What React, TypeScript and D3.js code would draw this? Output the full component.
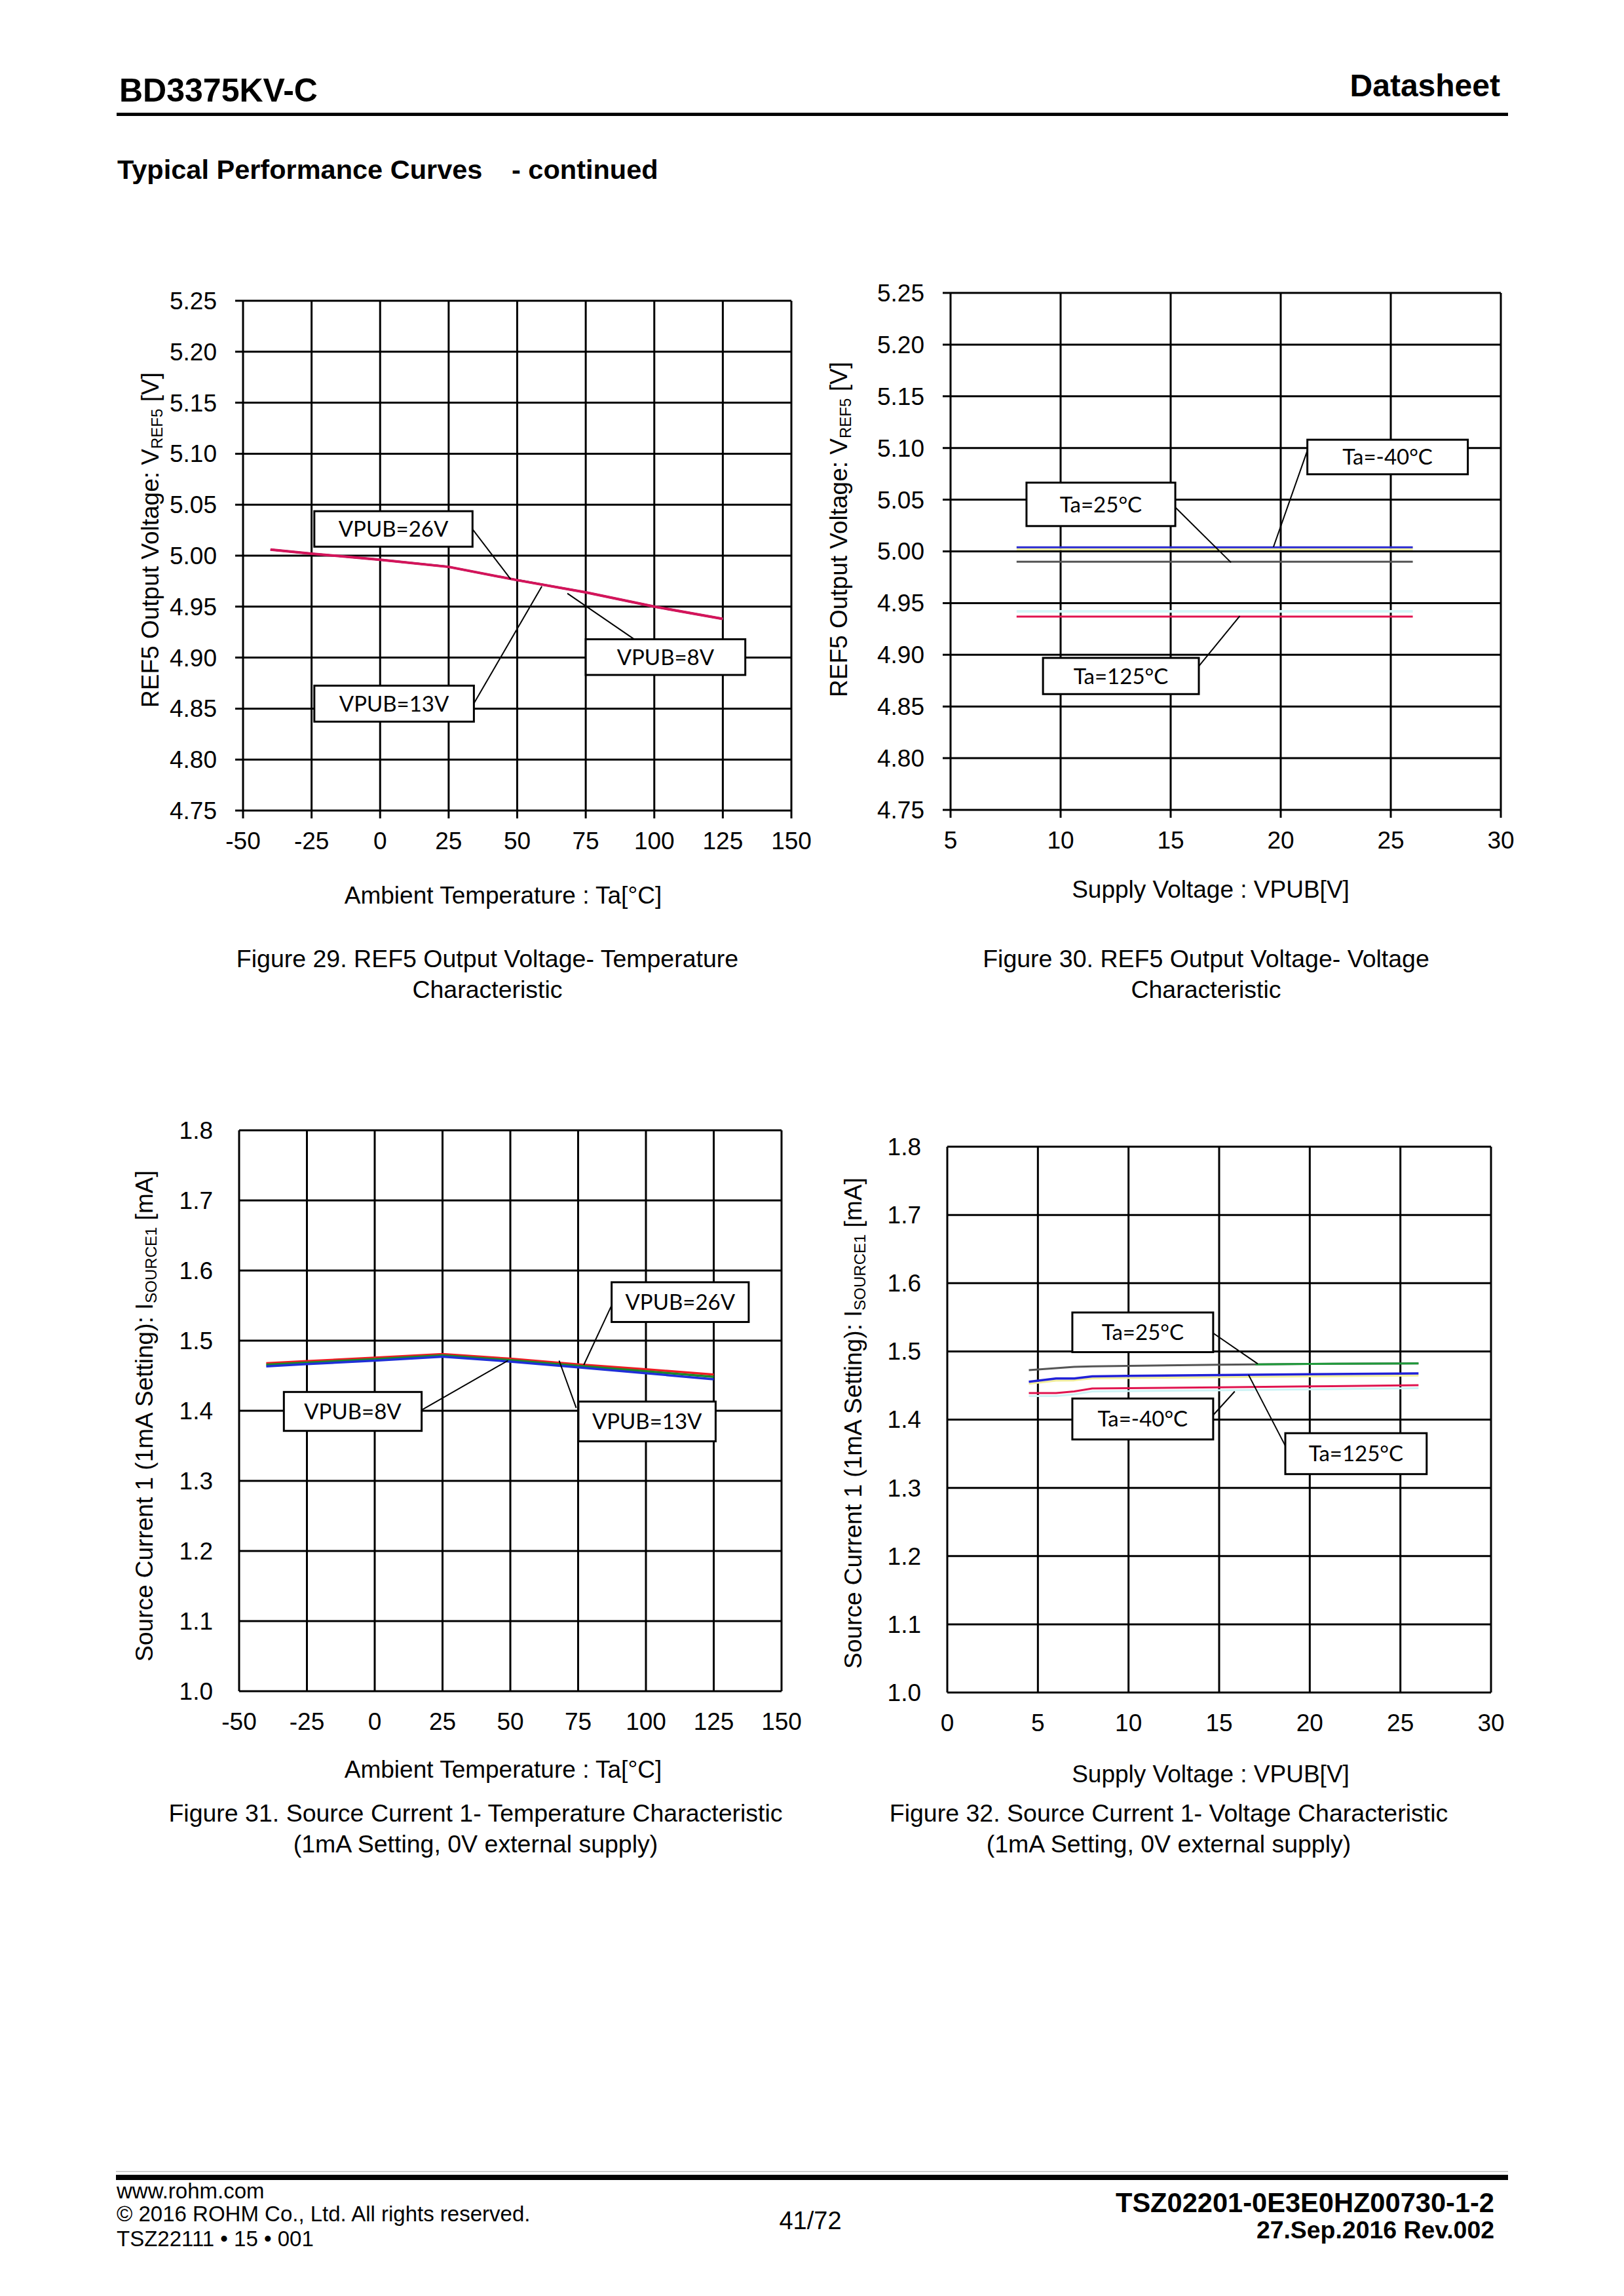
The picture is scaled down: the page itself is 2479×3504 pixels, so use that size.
import * as d3 from "d3";

const SANS = "'Liberation Sans', Arial, sans-serif";
const BOXFONT = "Lato, 'Open Sans', sans-serif";

// ---- Figure 29: REF5 output voltage vs temperature
const fig29Temp = [-40, -25, 0, 25, 50, 75, 100, 125];
const fig29Vpub8 = [5.006, 5.002, 4.996, 4.989, 4.976, 4.964, 4.95, 4.938];
const fig29Vpub13 = [5.006, 5.002, 4.996, 4.989, 4.976, 4.964, 4.95, 4.938];
const fig29Vpub26 = [5.006, 5.002, 4.996, 4.989, 4.976, 4.964, 4.95, 4.938];

// ---- Figure 30: REF5 output voltage vs supply voltage
const fig30Vpub = [8, 10, 13, 16, 20, 24, 26];
const fig30TaM40 = [5.004, 5.004, 5.004, 5.004, 5.004, 5.004, 5.004];
const fig30TaM40b = [5.002, 5.002, 5.002, 5.002, 5.002, 5.002, 5.002];
const fig30Ta25 = [4.99, 4.99, 4.99, 4.99, 4.99, 4.99, 4.99];
const fig30Ta125 = [4.937, 4.937, 4.937, 4.937, 4.937, 4.937, 4.937];
const fig30Ta125b = [4.942, 4.942, 4.942, 4.942, 4.942, 4.942, 4.942];

// ---- Figure 31: source current 1 vs temperature
const fig31Temp = [-40, -25, 0, 25, 50, 75, 100, 125];
const fig31Vpub26 = [1.4677, 1.4708, 1.4757, 1.4809, 1.4742, 1.4662, 1.4592, 1.4517];
const fig31Vpub13 = [1.4656, 1.4687, 1.4736, 1.479, 1.4722, 1.464, 1.4562, 1.4483];
const fig31Vpub8 = [1.4634, 1.4665, 1.4714, 1.4772, 1.4702, 1.4619, 1.4535, 1.4449];

// ---- Figure 32: source current 1 vs supply voltage
const fig32Vpub = [4.5, 6, 7, 8, 10, 15, 20, 26];
const fig32Ta25 = [1.4725, 1.4755, 1.4774, 1.478, 1.4787, 1.4805, 1.4817, 1.4823];
const fig32Ta25bVpub = [17, 20, 26];
const fig32Ta25b = [1.481, 1.4817, 1.4823];
const fig32TaM40 = [1.4554, 1.4603, 1.4603, 1.4634, 1.464, 1.4652, 1.4664, 1.4676];
const fig32TaM40b = [1.4525, 1.4572, 1.4575, 1.4605, 1.461, 1.4622, 1.4634, 1.4646];
const fig32Ta125 = [1.4389, 1.4389, 1.4413, 1.4456, 1.4462, 1.4474, 1.4487, 1.4505];
const fig32Ta125b = [1.4345, 1.4345, 1.437, 1.4412, 1.4418, 1.443, 1.4443, 1.446];

const tempTicks = [-50, -25, 0, 25, 50, 75, 100, 125, 150];
const ref5Ticks = [4.75, 4.8, 4.85, 4.9, 4.95, 5.0, 5.05, 5.1, 5.15, 5.2, 5.25];
const vpubTicks30 = [5, 10, 15, 20, 25, 30];
const vpubTicks32 = [0, 5, 10, 15, 20, 25, 30];
const currTicks = [1.0, 1.1, 1.2, 1.3, 1.4, 1.5, 1.6, 1.7, 1.8];

type Series = { x: number[]; y: number[]; color: string; w?: number };
type Callout = { label: string; x0: number; x1: number; y0: number; y1: number; from: [number, number]; to: [number, number] };

type ChartProps = {
  frame: { l: number; r: number; t: number; b: number };
  xTicks: number[];
  yTicks: number[];
  yFmt: (v: number) => string;
  tickLen: number;
  series: Series[];
  callouts: Callout[];
  xTitle: string;
  xTitlePos: [number, number];
  yTitle: string;
  ySub: string;
  yUnit: string;
  yTitlePos: [number, number];
  caption: string[];
  captionPos: [number, number];
};

function Chart(p: ChartProps) {
  const { frame } = p;
  const x = d3.scaleLinear().domain(d3.extent(p.xTicks) as [number, number]).range([frame.l, frame.r]);
  const y = d3.scaleLinear().domain(d3.extent(p.yTicks) as [number, number]).range([frame.b, frame.t]);
  const line = d3.line<[number, number]>().x((d) => x(d[0])).y((d) => y(d[1]));
  return (
    <g>
      {/* grid */}
      {p.yTicks.map((t) => (
        <line key={"h" + t} x1={frame.l - p.tickLen} x2={frame.r} y1={y(t)} y2={y(t)} stroke="#000" strokeWidth={3} />
      ))}
      {p.xTicks.map((t) => (
        <line key={"v" + t} x1={x(t)} x2={x(t)} y1={frame.t} y2={frame.b + p.tickLen} stroke="#000" strokeWidth={3} />
      ))}
      {/* tick labels */}
      {p.yTicks.map((t) => (
        <text key={"yl" + t} x={frame.l - 40} y={y(t)} dy="0.35em" textAnchor="end" fontFamily={SANS} fontSize={37}>
          {p.yFmt(t)}
        </text>
      ))}
      {p.xTicks.map((t) => (
        <text key={"xl" + t} x={x(t)} y={frame.b + 59} textAnchor="middle" fontFamily={SANS} fontSize={37}>
          {t}
        </text>
      ))}
      {/* series */}
      {p.series.map((s, i) => (
        <path
          key={"s" + i}
          d={line(s.x.map((v, j) => [v, s.y[j]] as [number, number])) || ""}
          fill="none"
          stroke={s.color}
          strokeWidth={s.w ?? 3.5}
          strokeLinejoin="round"
        />
      ))}
      {/* callouts */}
      {p.callouts.map((c, i) => (
        <g key={"c" + i}>
          <line x1={x(c.from[0])} y1={y(c.from[1])} x2={x(c.to[0])} y2={y(c.to[1])} stroke="#000" strokeWidth={2} />
          <rect x={x(c.x0)} y={y(c.y0)} width={x(c.x1) - x(c.x0)} height={y(c.y1) - y(c.y0)} fill="#fff" stroke="#000" strokeWidth={3} />
          <text
            x={(x(c.x0) + x(c.x1)) / 2}
            y={(y(c.y0) + y(c.y1)) / 2}
            dy="0.36em"
            textAnchor="middle"
            fontFamily={BOXFONT}
            fontSize={33}
          >
            {c.label}
          </text>
        </g>
      ))}
      {/* axis titles */}
      <text x={p.xTitlePos[0]} y={p.xTitlePos[1]} textAnchor="middle" fontFamily={SANS} fontSize={37}>
        {p.xTitle}
      </text>
      <text
        transform={`translate(${p.yTitlePos[0] + 13},${p.yTitlePos[1]}) rotate(-90)`}
        textAnchor="middle"
        fontFamily={SANS}
        fontSize={37}
      >
        {p.yTitle}
        <tspan fontSize={24} dy={6}>
          {p.ySub}
        </tspan>
        <tspan dy={-6}>{p.yUnit}</tspan>
      </text>
      {/* caption */}
      {p.caption.map((c, i) => (
        <text key={"cap" + i} x={p.captionPos[0]} y={p.captionPos[1] + i * 47} textAnchor="middle" fontFamily={SANS} fontSize={37.5}>
          {c}
        </text>
      ))}
    </g>
  );
}

const f2 = (v: number) => v.toFixed(2);
const f1 = (v: number) => v.toFixed(1);

export default function App() {
  return (
    <svg
      width={2479}
      height={3504}
      viewBox="0 0 2479 3504"
      style={{ position: "absolute", left: 0, top: 0, background: "#fff" }}
    >
      <rect width={2479} height={3504} fill="#fff" />
      {/* header */}
      <text x={182} y={155} fontFamily={SANS} fontWeight="bold" fontSize={50}>
        BD3375KV-C
      </text>
      <text x={2290} y={147} textAnchor="end" fontFamily={SANS} fontWeight="bold" fontSize={48}>
        Datasheet
      </text>
      <rect x={178} y={172} width={2124} height={5} fill="#000" />
      <text x={179} y={273} fontFamily={SANS} fontWeight="bold" fontSize={41.5}>
        Typical Performance Curves
      </text>
      <text x={781} y={273} fontFamily={SANS} fontWeight="bold" fontSize={41.5}>
        - continued
      </text>

      <Chart
        frame={{ l: 371, r: 1208, t: 459, b: 1237 }}
        xTicks={tempTicks}
        yTicks={ref5Ticks}
        yFmt={f2}
        tickLen={12}
        series={[
          { x: fig29Temp, y: fig29Vpub8, color: "#1f3fd0", w: 3 },
          { x: fig29Temp, y: fig29Vpub13, color: "#1a8a2a", w: 3 },
          { x: fig29Temp, y: fig29Vpub26, color: "#d4145a", w: 4 },
        ]}
        callouts={[
          { label: "VPUB=26V", x0: -24, x1: 33.7, y0: 5.0436, y1: 5.0088, from: [33.7, 5.026], to: [47.6, 4.977] },
          { label: "VPUB=13V", x0: -24, x1: 34.2, y0: 4.8725, y1: 4.8372, from: [34.2, 4.855], to: [59, 4.97] },
          { label: "VPUB=8V", x0: 75, x1: 133.2, y0: 4.918, y1: 4.883, from: [92.7, 4.918], to: [68.3, 4.963] },
        ]}
        xTitle="Ambient Temperature : Ta[°C]"
        xTitlePos={[768, 1379]}
        yTitle="REF5 Output Voltage:  V"
        ySub="REF5"
        yUnit=" [V]"
        yTitlePos={[229, 824]}
        caption={["Figure 29. REF5 Output Voltage- Temperature", "Characteristic"]}
        captionPos={[744, 1476]}
      />

      <Chart
        frame={{ l: 1451, r: 2291, t: 447, b: 1236 }}
        xTicks={vpubTicks30}
        yTicks={ref5Ticks}
        yFmt={f2}
        tickLen={12}
        series={[
          { x: fig30Vpub, y: fig30TaM40b, color: "#f0ee9a", w: 3 },
          { x: fig30Vpub, y: fig30TaM40, color: "#2a2ad0", w: 3 },
          { x: fig30Vpub, y: fig30Ta25, color: "#555", w: 3 },
          { x: fig30Vpub, y: fig30Ta125b, color: "#d6f6f8", w: 4 },
          { x: fig30Vpub, y: fig30Ta125, color: "#e0144f", w: 3 },
        ]}
        callouts={[
          { label: "Ta=-40°C", x0: 21.21, x1: 28.5, y0: 5.108, y1: 5.0746, from: [21.21, 5.0975], to: [19.67, 5.0043] },
          { label: "Ta=25°C", x0: 8.45, x1: 15.21, y0: 5.0665, y1: 5.0245, from: [15.21, 5.0426], to: [17.74, 4.9893] },
          { label: "Ta=125°C", x0: 9.2, x1: 16.28, y0: 4.897, y1: 4.862, from: [16.28, 4.889], to: [18.14, 4.9375] },
        ]}
        xTitle="Supply Voltage : VPUB[V]"
        xTitlePos={[1848, 1370]}
        yTitle="REF5 Output Voltage:  V"
        ySub="REF5"
        yUnit=" [V]"
        yTitlePos={[1280, 808]}
        caption={["Figure 30. REF5 Output Voltage- Voltage", "Characteristic"]}
        captionPos={[1841, 1476]}
      />

      <Chart
        frame={{ l: 365, r: 1193, t: 1725, b: 2581 }}
        xTicks={tempTicks}
        yTicks={currTicks}
        yFmt={f1}
        tickLen={0}
        series={[
          { x: fig31Temp, y: fig31Vpub26, color: "#ee1c24" },
          { x: fig31Temp, y: fig31Vpub13, color: "#1a8a2a" },
          { x: fig31Temp, y: fig31Vpub8, color: "#1f2fd8" },
        ]}
        callouts={[
          { label: "VPUB=26V", x0: 87.35, x1: 137.9, y0: 1.5833, y1: 1.5266, from: [87.35, 1.5504], to: [77.1, 1.4654] },
          { label: "VPUB=8V", x0: -33.5, x1: 17.3, y0: 1.4268, y1: 1.3713, from: [17.3, 1.4011], to: [49.1, 1.4715] },
          { label: "VPUB=13V", x0: 75.1, x1: 125.7, y0: 1.4131, y1: 1.3564, from: [74.3, 1.4041], to: [68, 1.4715] },
        ]}
        xTitle="Ambient Temperature : Ta[°C]"
        xTitlePos={[768, 2713]}
        yTitle="Source Current 1  (1mA Setting):  I"
        ySub="SOURCE1"
        yUnit=" [mA]"
        yTitlePos={[220, 2161]}
        caption={["Figure 31. Source Current 1- Temperature Characteristic", "(1mA Setting, 0V external supply)"]}
        captionPos={[726, 2780]}
      />

      <Chart
        frame={{ l: 1446, r: 2276, t: 1750, b: 2583 }}
        xTicks={vpubTicks32}
        yTicks={currTicks}
        yFmt={f1}
        tickLen={0}
        series={[
          { x: fig32Vpub, y: fig32TaM40b, color: "#f2ee9c", w: 3 },
          { x: fig32Vpub, y: fig32Ta125b, color: "#cdf3f5", w: 3 },
          { x: fig32Vpub, y: fig32Ta25, color: "#555", w: 3 },
          { x: fig32Ta25bVpub, y: fig32Ta25b, color: "#1f9a3a", w: 3 },
          { x: fig32Vpub, y: fig32TaM40, color: "#2020d8", w: 3.5 },
          { x: fig32Vpub, y: fig32Ta125, color: "#e0144f", w: 3 },
        ]}
        callouts={[
          { label: "Ta=25°C", x0: 6.9, x1: 14.67, y0: 1.557, y1: 1.4989, from: [14.59, 1.5282], to: [17.13, 1.4817] },
          { label: "Ta=-40°C", x0: 6.9, x1: 14.67, y0: 1.4309, y1: 1.3709, from: [14.52, 1.4022], to: [15.86, 1.4413] },
          { label: "Ta=125°C", x0: 18.65, x1: 26.45, y0: 1.3801, y1: 1.3201, from: [18.71, 1.3586], to: [16.62, 1.4657] },
        ]}
        xTitle="Supply Voltage : VPUB[V]"
        xTitlePos={[1848, 2720]}
        yTitle="Source Current 1  (1mA Setting):  I"
        ySub="SOURCE1"
        yUnit=" [mA]"
        yTitlePos={[1302, 2172]}
        caption={["Figure 32. Source Current 1- Voltage Characteristic", "(1mA Setting, 0V external supply)"]}
        captionPos={[1784, 2780]}
      />

      {/* footer */}
      <rect x={177} y={3313} width={2125} height={2} fill="#ccc" />
      <rect x={177} y={3319} width={2125} height={8} fill="#000" />
      <text x={178} y={3355} fontFamily={SANS} fontSize={33}>
        www.rohm.com
      </text>
      <text x={178} y={3390} fontFamily={SANS} fontSize={33}>
        © 2016 ROHM Co., Ltd. All rights reserved.
      </text>
      <text x={178} y={3428} fontFamily={SANS} fontSize={33}>
        TSZ22111 • 15 • 001
      </text>
      <text x={1237} y={3402} textAnchor="middle" fontFamily={SANS} fontSize={38}>
        41/72
      </text>
      <text x={2281} y={3376} textAnchor="end" fontFamily={SANS} fontWeight="bold" fontSize={41.6}>
        TSZ02201-0E3E0HZ00730-1-2
      </text>
      <text x={2281} y={3416} textAnchor="end" fontFamily={SANS} fontWeight="bold" fontSize={37.4}>
        27.Sep.2016 Rev.002
      </text>
    </svg>
  );
}
